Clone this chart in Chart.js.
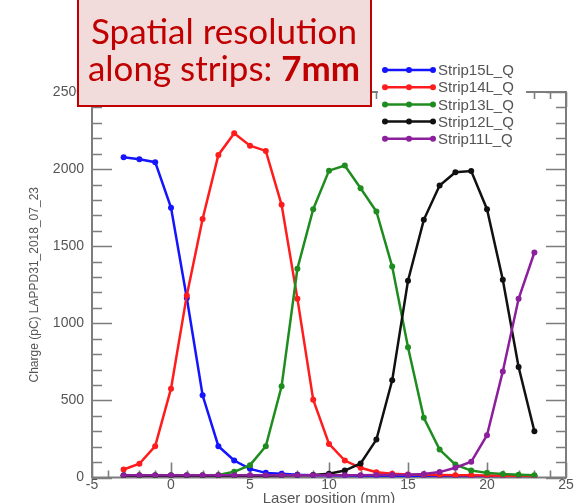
<!DOCTYPE html>
<html>
<head>
<meta charset="utf-8">
<script src="https://cdn.jsdelivr.net/npm/chart.js@4.4.1/dist/chart.umd.min.js"></script>
<style>
  html, body { margin: 0; padding: 0; background: #ffffff; }
  #wrap { width: 585px; height: 503px; position: relative; }
</style>
</head>
<body>
<div id="wrap"><canvas id="c" width="585" height="503"></canvas></div>
<script>
// Laser position scan (mm) and collected charge per strip (pC)
const positions = [-3, -2, -1, 0, 1, 2, 3, 4, 5, 6, 7, 8, 9, 10, 11, 12, 13, 14, 15, 16, 17, 18, 19, 20, 21, 22, 23];

const strip15L = [2077, 2064, 2045, 1750, 1164, 533, 203, 110, 56, 30, 24, 18, 15, 14, 13, 12, 12, 12, 11, 11, 11, 10, 10, 10, 10, 10, 10];
const strip14L = [52, 89, 203, 576, 1181, 1677, 2092, 2232, 2152, 2118, 1768, 1160, 505, 218, 110, 63, 34, 25, 20, 18, 16, 15, 14, 13, 12, 12, 10];
const strip13L = [15, 15, 15, 15, 15, 15, 16, 37, 80, 203, 591, 1354, 1740, 1990, 2023, 1876, 1725, 1368, 844, 387, 181, 84, 45, 30, 22, 18, 15];
const strip12L = [12, 12, 12, 12, 12, 12, 12, 12, 12, 12, 13, 14, 16, 25, 45, 91, 246, 630, 1276, 1671, 1893, 1980, 1988, 1740, 1282, 717, 300];
const strip11L = [15, 15, 15, 15, 15, 15, 15, 15, 15, 15, 15, 15, 15, 15, 15, 15, 16, 17, 18, 22, 35, 63, 102, 274, 688, 1159, 1459];

const seriesNames = ['Strip15L_Q', 'Strip14L_Q', 'Strip13L_Q', 'Strip12L_Q', 'Strip11L_Q'];

// Axis tick labels
const xTicks = [-5, 0, 5, 10, 15, 20, 25];
const yTicks = [0, 500, 1000, 1500, 2000, 2500];

const xTitle = 'Laser position (mm)';
const yTitle = 'Charge (pC) LAPPD31_2018_07_23';

const seriesValues = [strip15L, strip14L, strip13L, strip12L, strip11L];
const palette = ['#1414ff', '#ff1c1c', '#1f8c1f', '#111111', '#8c1f9c'];

const datasets = seriesValues.map((vals, i) => ({
  label: seriesNames[i],
  data: positions.map((p, k) => ({ x: p, y: vals[k] })),
  borderColor: palette[i],
  backgroundColor: palette[i],
  borderWidth: 2.5,
  pointRadius: 3,
  pointHoverRadius: 3,
  pointBorderWidth: 0,
  tension: 0,
  fill: false,
  order: seriesValues.length - i   // later strips drawn on top
}));

const GREY = '#7d7d7d';
const TEXT = '#555555';

// Boxed frame with inward ticks on all four sides, plus axis labels
const framePlugin = {
  id: 'frame',
  beforeDatasetsDraw(chart) {
    const { ctx, chartArea: { left, right, top, bottom }, scales: { x, y } } = chart;
    ctx.save();
    ctx.strokeStyle = GREY;
    ctx.lineWidth = 2;
    ctx.strokeRect(left, top, right - left, bottom - top);
    ctx.lineWidth = 1.6;
    const xMajor = xTicks[1] - xTicks[0];
    const xMinor = xMajor / 5;
    for (let v = xTicks[0]; v <= xTicks[xTicks.length - 1] + 1e-9; v += xMinor) {
      const px = Math.round(x.getPixelForValue(v)) + 0.5;
      const major = Math.abs(v / xMajor - Math.round(v / xMajor)) < 1e-6;
      const len = major ? 15 : 7;
      ctx.beginPath();
      ctx.moveTo(px, bottom); ctx.lineTo(px, bottom - len);
      ctx.moveTo(px, top); ctx.lineTo(px, top + len);
      ctx.stroke();
    }
    const yMajor = yTicks[1] - yTicks[0];
    const yMinor = yMajor / 5;
    for (let v = yTicks[0]; v <= yTicks[yTicks.length - 1] + 1e-9; v += yMinor) {
      const py = Math.round(y.getPixelForValue(v)) + 0.5;
      const major = Math.abs(v / yMajor - Math.round(v / yMajor)) < 1e-6;
      const len = major ? 20 : 10;
      ctx.beginPath();
      ctx.moveTo(left, py); ctx.lineTo(left + len, py);
      ctx.moveTo(right, py); ctx.lineTo(right - len, py);
      ctx.stroke();
    }

    ctx.fillStyle = TEXT;
    ctx.font = '14px "Liberation Sans", Arial, sans-serif';
    ctx.textAlign = 'center';
    ctx.textBaseline = 'middle';
    xTicks.forEach(v => ctx.fillText(String(v), x.getPixelForValue(v), bottom + 8));
    ctx.textAlign = 'right';
    yTicks.forEach(v => ctx.fillText(String(v), left - 8, y.getPixelForValue(v)));

    ctx.font = '15px "Liberation Sans", Arial, sans-serif';
    ctx.textAlign = 'center';
    ctx.fillText(xTitle, (left + right) / 2, bottom + 21);

    ctx.save();
    ctx.translate(35, (top + bottom) / 2);
    ctx.rotate(-Math.PI / 2);
    ctx.font = '12px "Liberation Sans", Arial, sans-serif';
    ctx.fillText(yTitle, 0, 0);
    ctx.restore();
    ctx.restore();
  }
};

// Legend block (line with three markers) and the annotation box
const overlayPlugin = {
  id: 'overlay',
  afterDraw(chart) {
    const { ctx } = chart;
    ctx.save();
    ctx.fillStyle = '#ffffff';
    ctx.fillRect(378, 58, 148, 90);
    const rowTop = 70, rowGap = 17.2;
    chart.data.datasets.forEach((ds, i) => {
      const yy = rowTop + i * rowGap;
      ctx.strokeStyle = ds.borderColor;
      ctx.fillStyle = ds.borderColor;
      ctx.lineWidth = 2.5;
      ctx.beginPath();
      ctx.moveTo(385, yy); ctx.lineTo(433, yy);
      ctx.stroke();
      [385, 409, 433].forEach(mx => {
        ctx.beginPath(); ctx.arc(mx, yy, 3, 0, Math.PI * 2); ctx.fill();
      });
      ctx.fillStyle = TEXT;
      ctx.font = '15px "Liberation Sans", Arial, sans-serif';
      ctx.textAlign = 'left';
      ctx.textBaseline = 'middle';
      ctx.fillText(ds.label, 438, yy + 1);
    });

    // Annotation box
    ctx.fillStyle = '#f2dcdb';
    ctx.fillRect(78, -2, 293, 108);
    ctx.strokeStyle = '#c00000';
    ctx.lineWidth = 2;
    ctx.strokeRect(78, -2, 293, 108);

    ctx.fillStyle = '#c00000';
    ctx.textBaseline = 'alphabetic';
    ctx.textAlign = 'left';
    const fontReg = '34px Lato, "Open Sans", sans-serif';
    const fontBold = 'bold 34px Lato, "Open Sans", sans-serif';

    const line1 = 'Spatial resolution';
    ctx.font = fontReg;
    const w1 = ctx.measureText(line1).width;
    const target1 = 266;
    ctx.save();
    ctx.translate(224 - target1 / 2, 44);
    ctx.scale(target1 / w1, 1);
    ctx.fillText(line1, 0, 0);
    ctx.restore();

    const l2a = 'along strips: ', l2b = '7mm';
    ctx.font = fontReg;
    const wa = ctx.measureText(l2a).width;
    ctx.font = fontBold;
    const wb = ctx.measureText(l2b).width;
    const target2 = 272;
    const s2 = target2 / (wa + wb);
    ctx.save();
    ctx.translate(224 - target2 / 2, 81);
    ctx.scale(s2, 1);
    ctx.font = fontReg;
    ctx.fillText(l2a, 0, 0);
    ctx.font = fontBold;
    ctx.fillText(l2b, wa, 0);
    ctx.restore();

    ctx.restore();
  }
};

new Chart(document.getElementById('c'), {
  type: 'line',
  data: { datasets },
  options: {
    responsive: false,
    animation: false,
    devicePixelRatio: 1,
    layout: { padding: { left: 92, right: 19, top: 92, bottom: 25.5 } },
    plugins: { legend: { display: false }, tooltip: { enabled: false } },
    scales: {
      x: { type: 'linear', min: xTicks[0], max: xTicks[xTicks.length - 1], display: false },
      y: { type: 'linear', min: yTicks[0], max: yTicks[yTicks.length - 1], display: false }
    }
  },
  plugins: [framePlugin, overlayPlugin]
});
</script>
</body>
</html>
